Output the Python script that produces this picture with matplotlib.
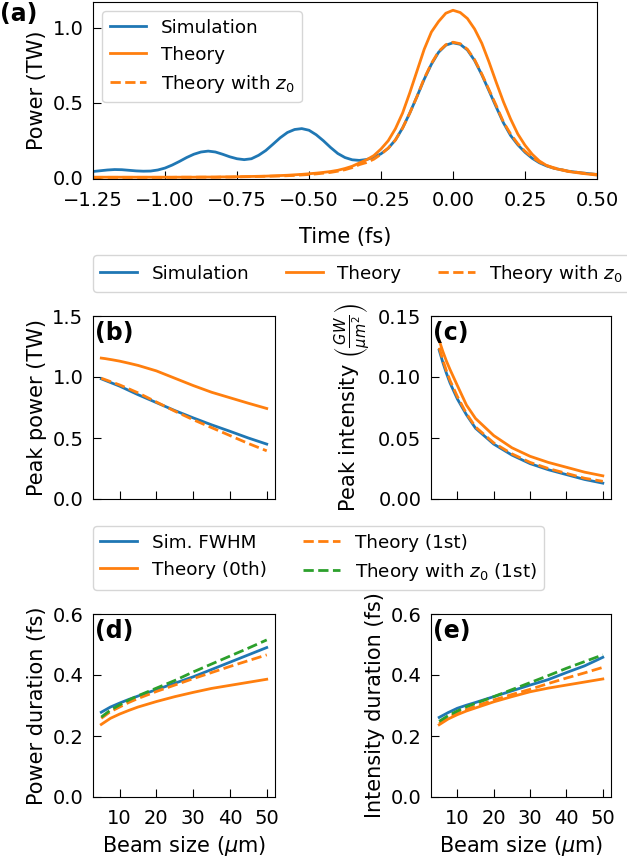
import numpy as np
import matplotlib
matplotlib.use("Agg")
import matplotlib.pyplot as plt

# ---- (a) power vs time ----
time_fs = [-1.25, -1.225, -1.2, -1.175, -1.15, -1.125, -1.1, -1.075, -1.05, -1.025,
           -1.0, -0.975, -0.95, -0.925, -0.9, -0.875, -0.85, -0.825, -0.8, -0.775,
           -0.75, -0.725, -0.7, -0.675, -0.65, -0.625, -0.6, -0.575, -0.55, -0.525,
           -0.5, -0.475, -0.45, -0.425, -0.4, -0.375, -0.35, -0.325, -0.3, -0.275,
           -0.25, -0.225, -0.2, -0.175, -0.15, -0.125, -0.1, -0.075, -0.05, -0.025,
           0.0, 0.025, 0.05, 0.075, 0.1, 0.125, 0.15, 0.175, 0.2, 0.225,
           0.25, 0.275, 0.3, 0.325, 0.35, 0.4, 0.45, 0.5]
power_sim = [0.040, 0.045, 0.050, 0.053, 0.052, 0.048, 0.044, 0.042, 0.043, 0.050,
             0.063, 0.083, 0.107, 0.133, 0.155, 0.170, 0.176, 0.170, 0.155, 0.138,
             0.125, 0.119, 0.125, 0.148, 0.180, 0.222, 0.265, 0.300, 0.320, 0.326,
             0.315, 0.285, 0.245, 0.200, 0.160, 0.133, 0.118, 0.114, 0.120, 0.135,
             0.158, 0.195, 0.250, 0.330, 0.430, 0.540, 0.655, 0.755, 0.835, 0.882,
             0.898, 0.888, 0.850, 0.780, 0.685, 0.578, 0.470, 0.365, 0.280, 0.218,
             0.168, 0.128, 0.098, 0.077, 0.062, 0.042, 0.030, 0.020]
power_theory = [0.002, 0.002, 0.002, 0.002, 0.002, 0.002, 0.002, 0.002, 0.002, 0.002,
                0.002, 0.002, 0.002, 0.002, 0.002, 0.003, 0.003, 0.003, 0.004, 0.004,
                0.005, 0.006, 0.007, 0.008, 0.009, 0.011, 0.013, 0.015, 0.018, 0.021,
                0.025, 0.029, 0.034, 0.040, 0.048, 0.060, 0.075, 0.097, 0.118, 0.146,
                0.190, 0.245, 0.325, 0.430, 0.565, 0.710, 0.855, 0.970, 1.040, 1.095,
                1.115, 1.100, 1.060, 0.990, 0.895, 0.770, 0.635, 0.505, 0.390, 0.290,
                0.215, 0.155, 0.110, 0.080, 0.062, 0.040, 0.027, 0.016]
power_theory_z0 = [0.001, 0.001, 0.001, 0.001, 0.001, 0.001, 0.001, 0.001, 0.001, 0.001,
                   0.001, 0.001, 0.002, 0.002, 0.002, 0.002, 0.002, 0.002, 0.003, 0.003,
                   0.004, 0.005, 0.006, 0.007, 0.008, 0.009, 0.010, 0.012, 0.014, 0.017,
                   0.020, 0.024, 0.029, 0.034, 0.042, 0.052, 0.066, 0.086, 0.100, 0.122,
                   0.155, 0.195, 0.250, 0.330, 0.430, 0.540, 0.660, 0.760, 0.840, 0.885,
                   0.902, 0.892, 0.855, 0.785, 0.690, 0.585, 0.480, 0.370, 0.290, 0.225,
                   0.175, 0.135, 0.103, 0.080, 0.065, 0.042, 0.030, 0.020]

# ---- (b), (c) peak power / intensity vs beam size ----
beam_bc = [5, 6, 7, 8, 10, 12.5, 15, 20, 25, 30, 35, 40, 45, 50]
peak_power_sim = [0.985, 0.973, 0.961, 0.949, 0.925, 0.890, 0.855, 0.790, 0.725, 0.665,
                  0.608, 0.555, 0.500, 0.450]
peak_power_theory = [1.155, 1.151, 1.146, 1.141, 1.130, 1.113, 1.095, 1.050, 0.990, 0.930,
                     0.875, 0.830, 0.785, 0.742]
peak_power_z0 = [0.990, 0.979, 0.968, 0.957, 0.935, 0.903, 0.870, 0.795, 0.720, 0.650,
                 0.585, 0.520, 0.455, 0.395]
peak_int_sim = [0.122, 0.112, 0.103, 0.095, 0.082, 0.069, 0.058, 0.045, 0.036, 0.029,
                0.024, 0.020, 0.016, 0.013]
peak_int_theory = [0.130, 0.121, 0.113, 0.106, 0.093, 0.077, 0.066, 0.052, 0.042, 0.035,
                   0.030, 0.026, 0.022, 0.019]
peak_int_z0 = [0.124, 0.114, 0.105, 0.097, 0.084, 0.070, 0.059, 0.046, 0.037, 0.030,
               0.025, 0.021, 0.017, 0.0145]

# ---- (d), (e) durations vs beam size ----
beam_de = [5, 7.5, 10, 12.5, 15, 20, 25, 30, 35, 40, 45, 50]
pdur_sim = [0.278, 0.295, 0.308, 0.320, 0.331, 0.352, 0.373, 0.394, 0.418, 0.442, 0.466, 0.490]
pdur_th0 = [0.238, 0.258, 0.272, 0.284, 0.295, 0.313, 0.329, 0.343, 0.356, 0.366, 0.376, 0.386]
pdur_th1 = [0.258, 0.280, 0.295, 0.310, 0.323, 0.346, 0.367, 0.388, 0.408, 0.428, 0.447, 0.466]
pdur_z0 = [0.262, 0.285, 0.302, 0.318, 0.332, 0.357, 0.382, 0.410, 0.436, 0.462, 0.488, 0.515]
idur_sim = [0.261, 0.277, 0.291, 0.301, 0.310, 0.329, 0.348, 0.367, 0.385, 0.408, 0.430, 0.458]
idur_th0 = [0.237, 0.256, 0.270, 0.282, 0.292, 0.312, 0.329, 0.345, 0.357, 0.367, 0.377, 0.387]
idur_th1 = [0.241, 0.261, 0.275, 0.287, 0.298, 0.318, 0.336, 0.353, 0.372, 0.390, 0.407, 0.425]
idur_z0 = [0.248, 0.267, 0.282, 0.296, 0.307, 0.329, 0.352, 0.375, 0.398, 0.422, 0.444, 0.466]

C_BLUE = "#1f77b4"
C_ORANGE = "#ff7f0e"
C_GREEN = "#2ca02c"
LW = 2.0

plt.rcParams["font.size"] = 14
plt.rcParams["xtick.direction"] = "in"
plt.rcParams["ytick.direction"] = "in"
plt.rcParams["xtick.major.size"] = 6
plt.rcParams["ytick.major.size"] = 6
plt.rcParams["xtick.major.pad"] = 9
plt.rcParams["ytick.major.pad"] = 7
plt.rcParams["legend.fontsize"] = 13.2

W, H = 627, 865
fig = plt.figure(figsize=(W / 100, H / 100), dpi=100)


def box(l, t, r, b):
    return [l / W, 1 - b / H, (r - l) / W, (b - t) / H]


ax_a = fig.add_axes(box(93, 2, 597, 179))
ax_b = fig.add_axes(box(93, 316, 275, 499))
ax_c = fig.add_axes(box(431, 316, 611, 499))
ax_d = fig.add_axes(box(93, 614, 275, 797))
ax_e = fig.add_axes(box(431, 614, 611, 797))

# (a)
ax_a.plot(time_fs, power_sim, color=C_BLUE, lw=LW, label="Simulation")
ax_a.plot(time_fs, power_theory, color=C_ORANGE, lw=LW, label="Theory")
ax_a.plot(time_fs, power_theory_z0, color=C_ORANGE, lw=LW, ls="--", label="Theory with $z_0$")
ax_a.set_xlim(-1.25, 0.5)
ax_a.set_ylim(-0.01, 1.17)
ax_a.set_xticks([-1.25, -1.0, -0.75, -0.5, -0.25, 0.0, 0.25, 0.5])
ax_a.set_yticks([0.0, 0.5, 1.0])
ax_a.set_xlabel("Time (fs)", fontsize=15, labelpad=12)
ax_a.set_ylabel("Power (TW)", fontsize=15)
ax_a.legend(loc="upper left")
fig.text(0.0, 0.998, "(a)", fontsize=17, fontweight="bold", va="top", ha="left")

# (b)
ax_b.plot(beam_bc, peak_power_sim, color=C_BLUE, lw=LW, label="Simulation")
ax_b.plot(beam_bc, peak_power_theory, color=C_ORANGE, lw=LW, label="Theory")
ax_b.plot(beam_bc, peak_power_z0, color=C_ORANGE, lw=LW, ls="--", label="Theory with $z_0$")
ax_b.set_ylim(0, 1.5)
ax_b.set_yticks([0.0, 0.5, 1.0, 1.5])
ax_b.set_ylabel("Peak power (TW)", fontsize=15)
ax_b.legend(loc="lower left", bbox_to_anchor=(0, 1.131), ncol=3, borderaxespad=0)

# (c)
ax_c.plot(beam_bc, peak_int_sim, color=C_BLUE, lw=LW)
ax_c.plot(beam_bc, peak_int_theory, color=C_ORANGE, lw=LW)
ax_c.plot(beam_bc, peak_int_z0, color=C_ORANGE, lw=LW, ls="--")
ax_c.set_ylim(0, 0.15)
ax_c.set_yticks([0.0, 0.05, 0.10, 0.15])
ax_c.set_ylabel(r"Peak intensity $\left(\frac{GW}{\mu m^2}\right)$", fontsize=15)

# (d)
ax_d.plot(beam_de, pdur_sim, color=C_BLUE, lw=LW, label="Sim. FWHM")
ax_d.plot(beam_de, pdur_th0, color=C_ORANGE, lw=LW, label="Theory (0th)")
ax_d.plot(beam_de, pdur_th1, color=C_ORANGE, lw=LW, ls="--", label="Theory (1st)")
ax_d.plot(beam_de, pdur_z0, color=C_GREEN, lw=LW, ls="--", label="Theory with $z_0$ (1st)")
ax_d.set_ylabel("Power duration (fs)", fontsize=15)
ax_d.legend(loc="lower left", bbox_to_anchor=(0, 1.131), ncol=2, borderaxespad=0)

# (e)
ax_e.plot(beam_de, idur_sim, color=C_BLUE, lw=LW)
ax_e.plot(beam_de, idur_th0, color=C_ORANGE, lw=LW)
ax_e.plot(beam_de, idur_th1, color=C_ORANGE, lw=LW, ls="--")
ax_e.plot(beam_de, idur_z0, color=C_GREEN, lw=LW, ls="--")
ax_e.set_ylabel("Intensity duration (fs)", fontsize=15)

for ax in (ax_d, ax_e):
    ax.set_ylim(0, 0.6)
    ax.set_yticks([0.0, 0.2, 0.4, 0.6])
    ax.set_xlabel(r"Beam size ($\mu$m)", fontsize=15)

for ax in (ax_b, ax_c, ax_d, ax_e):
    ax.set_xticks([10, 20, 30, 40, 50])
for ax in (ax_b, ax_c):
    ax.tick_params(labelbottom=False)

for ax, lab in zip((ax_b, ax_c, ax_d, ax_e), ("(b)", "(c)", "(d)", "(e)")):
    ax.text(0.01, 0.97, lab, transform=ax.transAxes, fontsize=17,
            fontweight="bold", va="top", ha="left")

fig.savefig("out.png", dpi=100)
